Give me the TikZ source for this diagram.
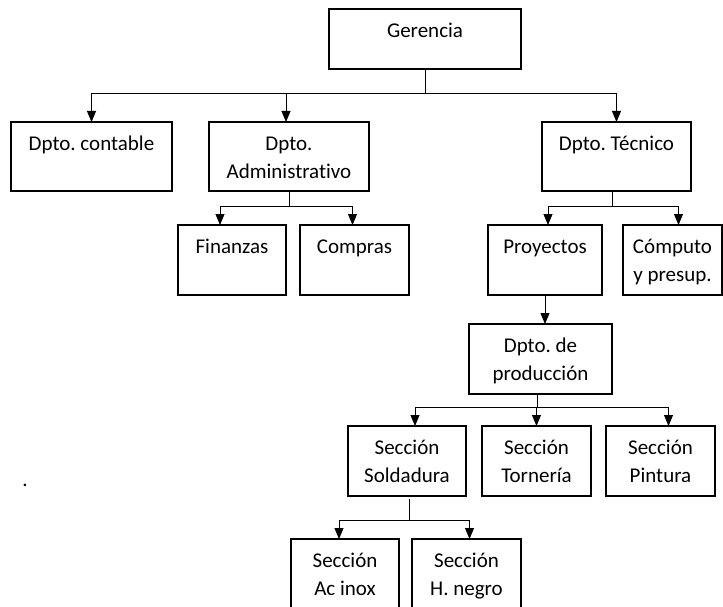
\documentclass[tikz,border=0pt]{standalone}
\usepackage{fontspec}
\setmainfont{Carlito}[Ligatures=NoCommon]
\usepackage{tikz}
\usetikzlibrary{arrows.meta}
\frenchspacing

\begin{document}
\begin{tikzpicture}
[x=1pt, y=-1pt]
\tikzset{
	texto/.style = {anchor = north, inner sep = 0pt, align = center, yshift = -10pt, font = \fontsize{21}{28.5}\selectfont},
	org/.style = {draw, line width = 1.1pt, inner sep = 0pt, outer sep = 0pt, anchor = north west, label = {[texto]north:\rule{0pt}{18pt}#1}},
	linea/.style = {line width = 0.9pt},
	flecha/.style = {line width = 0.9pt, -{Triangle[length=11pt, width=9pt]}}
}
\useasboundingbox (0,0) rectangle (723,607);

\node (ger)  [org = Gerencia, minimum width = 192pt, minimum height = 60pt] at (329,9) {};
\node (cont) [org = Dpto. contable, minimum width = 161pt, minimum height = 69pt] at (11,122) {};
\node (adm)  [org = {Dpto.\\Administrativo}, minimum width = 160pt, minimum height = 69pt] at (209,122) {};
\node (tec)  [org = Dpto. Técnico, minimum width = 149pt, minimum height = 69pt] at (542,122) {};
\node (fin)  [org = Finanzas, minimum width = 108pt, minimum height = 70pt] at (178,225) {};
\node (comp) [org = Compras, minimum width = 109pt, minimum height = 70pt] at (300,225) {};
\node (proy) [org = Proyectos, minimum width = 114pt, minimum height = 70pt] at (488,225) {};
\node (cpto) [org = {Cómputo\\y presup.}, minimum width = 99pt, minimum height = 70pt] at (623,225) {};
\node (prod) [org = {Dpto. de\\producción}, minimum width = 143pt, minimum height = 70pt] at (469,324) {};
\node (sold) [org = {Sección\\Soldadura}, minimum width = 118pt, minimum height = 70pt] at (348,426) {};
\node (torn) [org = {Sección\\Tornería}, minimum width = 109pt, minimum height = 70pt] at (482,426) {};
\node (pint) [org = {Sección\\Pintura}, minimum width = 109pt, minimum height = 70pt] at (606,426) {};
\node (acin) [org = {Sección\\Ac inox}, minimum width = 108pt, minimum height = 70pt] at (291,539) {};
\node (hneg) [org = {Sección\\H. negro}, minimum width = 109pt, minimum height = 70pt] at (412,539) {};
\node (punto) [texto, yshift = 0pt] at (25,474) {.};

\coordinate (b0) at (ger.south |- 0,93);
\coordinate (b1) at (adm.south |- 0,206);
\coordinate (b2) at ([xshift=-4pt]tec.south |- 0,206);
\coordinate (b3) at ([xshift=-3pt]prod.south |- 0,407);
\coordinate (b4) at ([xshift=2pt]sold.south |- 0,520);

\draw [linea] (ger.south) -- (b0);
\draw [flecha] (b0) -| (cont.north);
\draw [flecha] (b0) -| ([xshift=-3pt]adm.north);
\draw [flecha] (b0) -| (tec.north);

\draw [linea] (adm.south) -- (b1);
\draw [flecha] (b1) -| ([xshift=-12pt]fin.north);
\draw [flecha] (b1) -| ([xshift=-2pt]comp.north);

\draw [linea] ([xshift=-4pt]tec.south) -- (b2);
\draw [flecha] (b2) -| ([xshift=3pt]proy.north);
\draw [flecha] (b2) -| ([xshift=6pt]cpto.north);

\draw [flecha] (proy.south) -- (proy.south |- prod.north);

\draw [linea] ([xshift=-3pt]prod.south) -- (b3);
\draw [flecha] (b3) -| ([xshift=8pt]sold.north);
\draw [flecha] (b3) -| (torn.north);
\draw [flecha] (b3) -| ([xshift=8pt]pint.north);

\draw [linea] ([xshift=2pt, yshift=-3pt]sold.south) -- (b4);
\draw [flecha] (b4) -| ([xshift=-6pt]acin.north);
\draw [flecha] (b4) -| ([xshift=3pt]hneg.north);
\end{tikzpicture}
\end{document}
